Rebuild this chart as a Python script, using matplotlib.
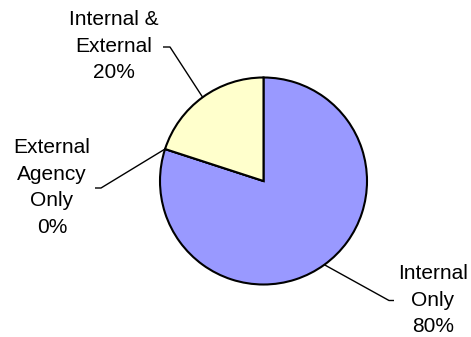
import numpy as np
import matplotlib
matplotlib.use("Agg")
import matplotlib.pyplot as plt

# Share of work by who performs it
categories = ["Internal\nOnly", "External\nAgency\nOnly", "Internal &\nExternal"]
shares = [80, 0, 20]
colors = ["#9999FF", "#FFFFCC", "#FFFFCC"]

W, H, DPI = 471, 337, 100
CX, CY, R = 263.5, 181.0, 103.5  # pie centre and radius in pixels


def px(x, y):
    """Pixel position -> data coordinates of a unit pie."""
    return (x - CX) / R, (CY - y) / R


fig = plt.figure(figsize=(W / DPI, H / DPI), dpi=DPI)
ax = fig.add_axes([0, 0, 1, 1])

wedges, _ = ax.pie(
    shares, colors=colors, startangle=90, counterclock=False, radius=1,
    wedgeprops=dict(edgecolor="black", linewidth=1.5),
)

# pie() resets the limits, so fix the view afterwards
ax.set_xlim(px(0, 0)[0], px(W, 0)[0])
ax.set_ylim(px(0, H)[1], px(0, 0)[1])
ax.set_aspect("equal")
ax.axis("off")

# label placement: text centre, end of short horizontal tick, elbow point
label_layout = [
    dict(text=(433, 300), tick=(394, 300.5), elbow=(389, 300.5)),
    dict(text=(52, 187.5), tick=(95, 188), elbow=(101, 188)),
    dict(text=(114, 46), tick=(163, 47), elbow=(170, 47)),
]

total = sum(shares)
cum = 0.0
for name, val, lay in zip(categories, shares, label_layout):
    a0 = 90 - 360 * cum / total
    cum += val
    a1 = 90 - 360 * cum / total
    mid = np.deg2rad((a0 + a1) / 2)
    edge = (np.cos(mid), np.sin(mid))
    ex, ey = px(*lay["elbow"])
    tx, ty = px(*lay["tick"])
    ax.plot([edge[0], ex, tx], [edge[1], ey, ty], color="black", lw=1.0,
            solid_capstyle="butt", zorder=3)
    cx, cy = px(*lay["text"])
    ax.text(cx, cy, f"{name}\n{val}%", ha="center", va="center",
            multialignment="center", fontsize=15, linespacing=1.5,
            family="Liberation Sans", color="black")

fig.savefig("out.png", dpi=DPI, facecolor="white")
